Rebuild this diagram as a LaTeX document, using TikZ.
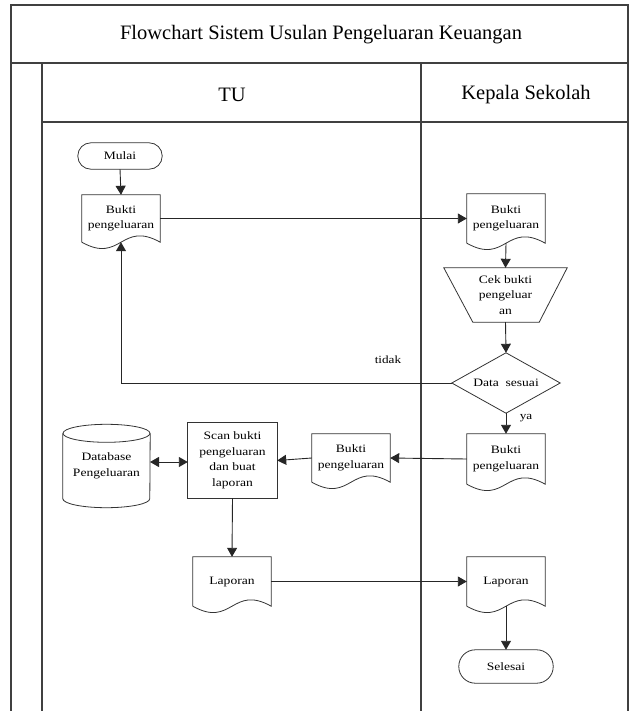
\documentclass[tikz,border=0pt]{standalone}
\usepackage{fontspec}
\setmainfont{Liberation Serif}
\newfontfamily\nf[FakeStretch=1.2]{Liberation Serif}
\usetikzlibrary{arrows.meta,calc}
\tikzset{
  frame/.style={draw=black!75,line width=1.6pt},
  box/.style={draw=none,align=center,font=\nf\fontsize{11.3}{15.5}\selectfont,inner sep=0pt},
  outline/.style={draw=black!80,line width=0.8pt},
  conn/.style={draw=black!85,line width=0.9pt,-{Triangle[length=9pt,width=10pt]}},
  dconn/.style={draw=black!85,line width=0.9pt,{Triangle[length=9pt,width=10pt]}-{Triangle[length=9pt,width=10pt]}},
  lbl/.style={font=\nf\fontsize{11}{13}\selectfont,inner sep=0pt},
  head/.style={font=\fontsize{20.5}{24}\selectfont,inner sep=0pt}
}
\newcommand\docshape[1]{\draw[outline] (#1.south west) -- (#1.north west) -- (#1.north east) -- (#1.south east) .. controls ($(#1.south)+(0,-22)$) and ($(#1.south)+(0,22)$) .. (#1.south west);}
\begin{document}
\begin{tikzpicture}[x=1pt,y=-1pt]
\useasboundingbox (0,0) rectangle (635,711);
% frame
\coordinate (tl) at (11,5);
\coordinate (tr) at (628,5);
\draw[frame] (11,711) -- (tl) -- (tr) -- (628,711);
\draw[frame] (11,63) -- (628,63);
\draw[frame] (42,63) -- (42,711);
\draw[frame] (421,63) -- (421,711);
\draw[frame] (42,122) -- (628,122);
\node[head] (title) at (321,35) {Flowchart Sistem Usulan Pengeluaran Keuangan};
\node[head] (tu) at (232,95) {TU};
\node[head] (ks) at (526,95) {Kepala Sekolah};

% nodes
\node[box,minimum width=84,minimum height=26] (mulai) at (120,156) {Mulai};
\draw[outline,rounded corners=13pt] (mulai.north west) rectangle (mulai.south east);

\node[box,minimum width=78,minimum height=47] (bt1) at (121,218.5) {Bukti\\pengeluaran};
\docshape{bt1}

\node[box,minimum width=78,minimum height=49] (bk1) at (506,218.5) {Bukti\\pengeluaran};
\docshape{bk1}

\node[box,minimum width=123,minimum height=54] (cek) at (505.5,295) {Cek bukti\\pengeluar\\an};
\draw[outline] (cek.north west) -- (cek.north east) -- ($(cek.south east)+(-28,0)$) -- ($(cek.south west)+(29,0)$) -- cycle;

\node[box,minimum width=108,minimum height=60] (ds) at (506,383) {Data\ \ sesuai};
\draw[outline] (ds.north) -- (ds.east) -- (ds.south) -- (ds.west) -- cycle;

\node[box,minimum width=78,minimum height=50] (bk2) at (506,459) {Bukti\\pengeluaran};
\docshape{bk2}

\node[box,minimum width=78,minimum height=48] (bt2) at (351,458) {Bukti\\pengeluaran};
\docshape{bt2}

\node[box,minimum width=89,minimum height=75] (scan) at (232.5,460.5) {Scan bukti\\pengeluaran\\dan buat\\laporan};
\draw[outline] (scan.north west) rectangle (scan.south east);

\node[box,minimum width=87,minimum height=83] (db) at (106.5,466) {Database\\Pengeluaran};
\draw[outline] ($(db.north west)+(0,9)$) -- ($(db.south west)+(0,-9)$) arc[start angle=180,end angle=360,x radius=43.5pt,y radius=9pt] -- ($(db.north east)+(0,9)$);
\draw[outline] ($(db.north)+(0,9)$) ellipse[x radius=43.5pt,y radius=9pt];
\coordinate (dbe) at (150,462);

\node[box,minimum width=78,minimum height=49] (lt) at (232,581.5) {Laporan};
\docshape{lt}

\node[box,minimum width=78,minimum height=49] (lk) at (506,581.5) {Laporan};
\docshape{lk}

\node[box,minimum width=94,minimum height=33] (sel) at (506,666.5) {Selesai};
\draw[outline,rounded corners=16.5pt] (sel.north west) rectangle (sel.south east);

\node[lbl] (tidak) at (388,360) {tidak};
\node[lbl] (ya) at (526,418) {ya};

% connectors
\draw[conn] (mulai.south) -- (bt1.north);
\draw[conn] (bt1.east) -- (bk1.west);
\draw[conn] (bk1.south) -- (cek.north);
\draw[conn] (cek.south) -- (ds.north);
\draw[conn] (ds.west) -- (bt1.south |- ds.west) -- (bt1.south);
\draw[conn] (ds.south) -- (bk2.north);
\draw[conn] (bk2.west) -- (bt2.east);
\draw[conn] (bt2.west) -- (scan.east);
\draw[dconn] (dbe) -- (scan.west |- dbe);
\draw[conn] (scan.south) -- (lt.north);
\draw[conn] (lt.east) -- (lk.west);
\draw[conn] (lk.south) -- (sel.north);
\end{tikzpicture}
\end{document}
